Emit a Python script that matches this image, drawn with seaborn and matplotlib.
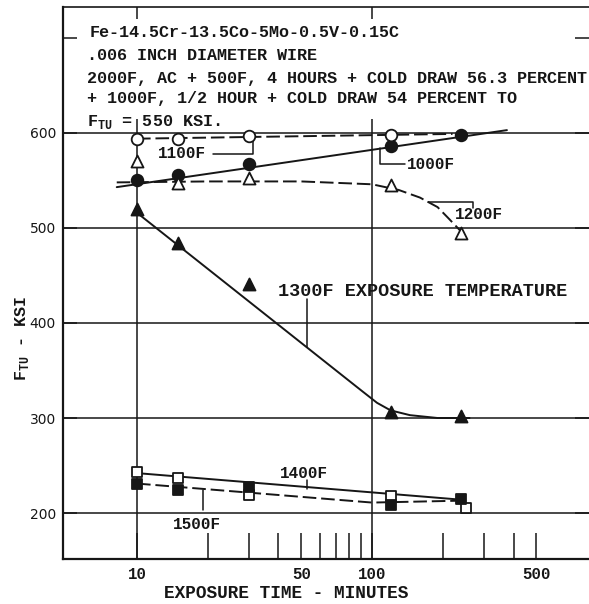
import matplotlib
matplotlib.use("Agg")
import matplotlib.pyplot as plt
import seaborn as sns

sns.set_style("white")
plt.rcParams['font.family'] = ['Liberation Mono', 'DejaVu Sans']

ink = '#161616'
mono = 'Liberation Mono'

# exposure time, minutes
times = [10, 15, 30, 120, 240]
times_1100 = [10, 15, 30, 120]
times_1400 = [10, 15, 30, 120, 250]

# F_TU (ksi) for each exposure temperature
f_1000 = [550, 556, 567, 586, 598]
f_1100 = [594, 594, 597, 598]
f_1200 = [570, 547, 553, 545, 495]
f_1300 = [520, 484, 441, 306, 302]
f_1400 = [243, 237, 219, 218, 205]
f_1500 = [231, 224, 227, 208, 215]

# hand faired curves as drawn on the chart
fair_1000_t = [8.2, 375]
fair_1000_f = [543, 603]
fair_1100_t = [10, 220]
fair_1100_f = [594, 599]
fair_1200_t = [8.2, 20, 50, 100, 130, 160, 190, 210, 240]
fair_1200_f = [548, 549, 549, 546, 540, 532, 522, 511, 496]
fair_1300_t = [10, 90, 105, 120, 145, 190, 260]
fair_1300_f = [516, 329, 316, 308, 303, 300, 300]
fair_1400_t = [10, 240]
fair_1400_f = [242, 214]
fair_1500_t = [10, 100, 240]
fair_1500_f = [231, 211, 213]

fig = plt.figure(figsize=(5.89, 6.04), dpi=100)
ax = fig.add_axes([63 / 589, 45 / 604, 526 / 589, 552 / 604])
ax.set_xscale('log')
ax.set_xlim(4.843, 838)
ax.set_ylim(151.6, 732.6)

# grid as on the original sheet
for v in [200, 300, 400, 500, 600]:
    ax.axhline(v, color=ink, lw=1.1, zorder=1)
ax.vlines([10, 100], 151.6, 615, color=ink, lw=1.1, zorder=1)
ax.vlines([10, 100], 1 - 12 / 552, 1, color=ink, lw=1.1,
          transform=ax.get_xaxis_transform())

dash = (0, (7, 2.5))
lines = [
    (fair_1000_t, fair_1000_f, '-'),
    (fair_1100_t, fair_1100_f, dash),
    (fair_1200_t, fair_1200_f, dash),
    (fair_1300_t, fair_1300_f, '-'),
    (fair_1400_t, fair_1400_f, '-'),
    (fair_1500_t, fair_1500_f, dash),
]
for t, f, ls in lines:
    sns.lineplot(x=t, y=f, ax=ax, color=ink, lw=1.4, ls=ls,
                 estimator=None, sort=False, zorder=2)

pts = [
    (times, f_1000, 'o', ink, 70),
    (times_1100, f_1100, 'o', 'white', 70),
    (times, f_1200, '^', 'white', 75),
    (times, f_1300, '^', ink, 75),
    (times_1400, f_1400, 's', 'white', 60),
    (times, f_1500, 's', ink, 60),
]
for t, f, m, fc, s in pts:
    sns.scatterplot(x=t, y=f, ax=ax, marker=m, s=s, color=fc,
                    edgecolor=ink, linewidth=1.3, zorder=4)

# labels with leader lines
lab = dict(fontsize=11.5, family=mono, weight='bold', color=ink, va='center')
def leader(xs, ys):
    ax.plot(xs, ys, color=ink, lw=1.1, zorder=3)

ax.text(19.6, 578, '1100F', ha='right', **lab)
leader([21.0, 31.2, 31.2], [578, 578, 594])
ax.text(141, 567, '1000F', ha='left', **lab)
leader([108, 108, 138], [584, 567, 567])
ax.text(225, 514, '1200F', ha='left', **lab)
leader([173, 269, 269], [527, 527, 521])
ax.text(39.8, 433, '1300F EXPOSURE TEMPERATURE', ha='left',
        **{**lab, 'fontsize': 13.3})
leader([52.8, 52.8], [425, 375])
ax.text(40.6, 242, '1400F', ha='left', **lab)
leader([52.8, 52.8], [235, 225])
ax.text(14.2, 188, '1500F', ha='left', **lab)
leader([19.1, 19.1], [224, 203])

# heat treatment note
note = dict(fontsize=12.1, family=mono, weight='bold', color=ink,
            va='center', ha='left', transform=ax.transAxes)
ax.text(0.051, 0.953, 'Fe-14.5Cr-13.5Co-5Mo-0.5V-0.15C', **note)
ax.text(0.045, 0.913, '.006 INCH DIAMETER WIRE', **note)
ax.text(0.045, 0.871, '2000F, AC + 500F, 4 HOURS + COLD DRAW 56.3 PERCENT', **note)
ax.text(0.045, 0.835, '+ 1000F, 1/2 HOUR + COLD DRAW 54 PERCENT TO', **note)
ax.text(0.045, 0.792, r'F$_{\mathregular{TU}}$ = 550 KSI.', **note)

# axes, ticks
ax.set_xticks([10, 50, 100, 500])
ax.set_xticklabels(['10', '50', '100', '500'])
ax.set_xticks([20, 30, 40, 60, 70, 80, 90, 200, 300, 400], minor=True)
ax.set_xticklabels([], minor=True)
ax.tick_params(axis='x', which='both', bottom=True, top=False,
               direction='in', length=18.5, width=1.1, color=ink,
               pad=5.5, labelsize=11.3, labelcolor=ink)
for lbl in ax.get_xticklabels():
    lbl.set_fontweight('bold')

ax.set_yticks([200, 300, 400, 500, 600, 700])
ax.set_yticklabels(['200', '300', '400', '500', '600', ''])
ax.yaxis.set_ticks_position('both')
ax.tick_params(axis='y', which='major', left=True, right=True,
               direction='in', length=10, width=1.1, color=ink,
               pad=5, labelsize=10, labelcolor=ink)
for lbl in ax.get_yticklabels():
    lbl.set_family('DejaVu Sans')

ax.set_xlabel('EXPOSURE TIME - MINUTES', fontsize=12.8, family=mono,
              weight='bold', color=ink)
ax.xaxis.label.set_va('center')
ax.xaxis.set_label_coords(0.424, -0.0616)
ax.set_ylabel(r'F$_{\mathregular{TU}}$ - KSI', fontsize=12, family=mono,
              weight='bold', color=ink)
ax.yaxis.label.set_va('center')
ax.yaxis.set_label_coords(-0.078, 0.40)

for side in ['left', 'bottom']:
    ax.spines[side].set_linewidth(1.6)
    ax.spines[side].set_color(ink)
ax.spines['top'].set_linewidth(1.2)
ax.spines['top'].set_color(ink)
ax.spines['right'].set_visible(False)

fig.savefig('out.png', dpi=100)
